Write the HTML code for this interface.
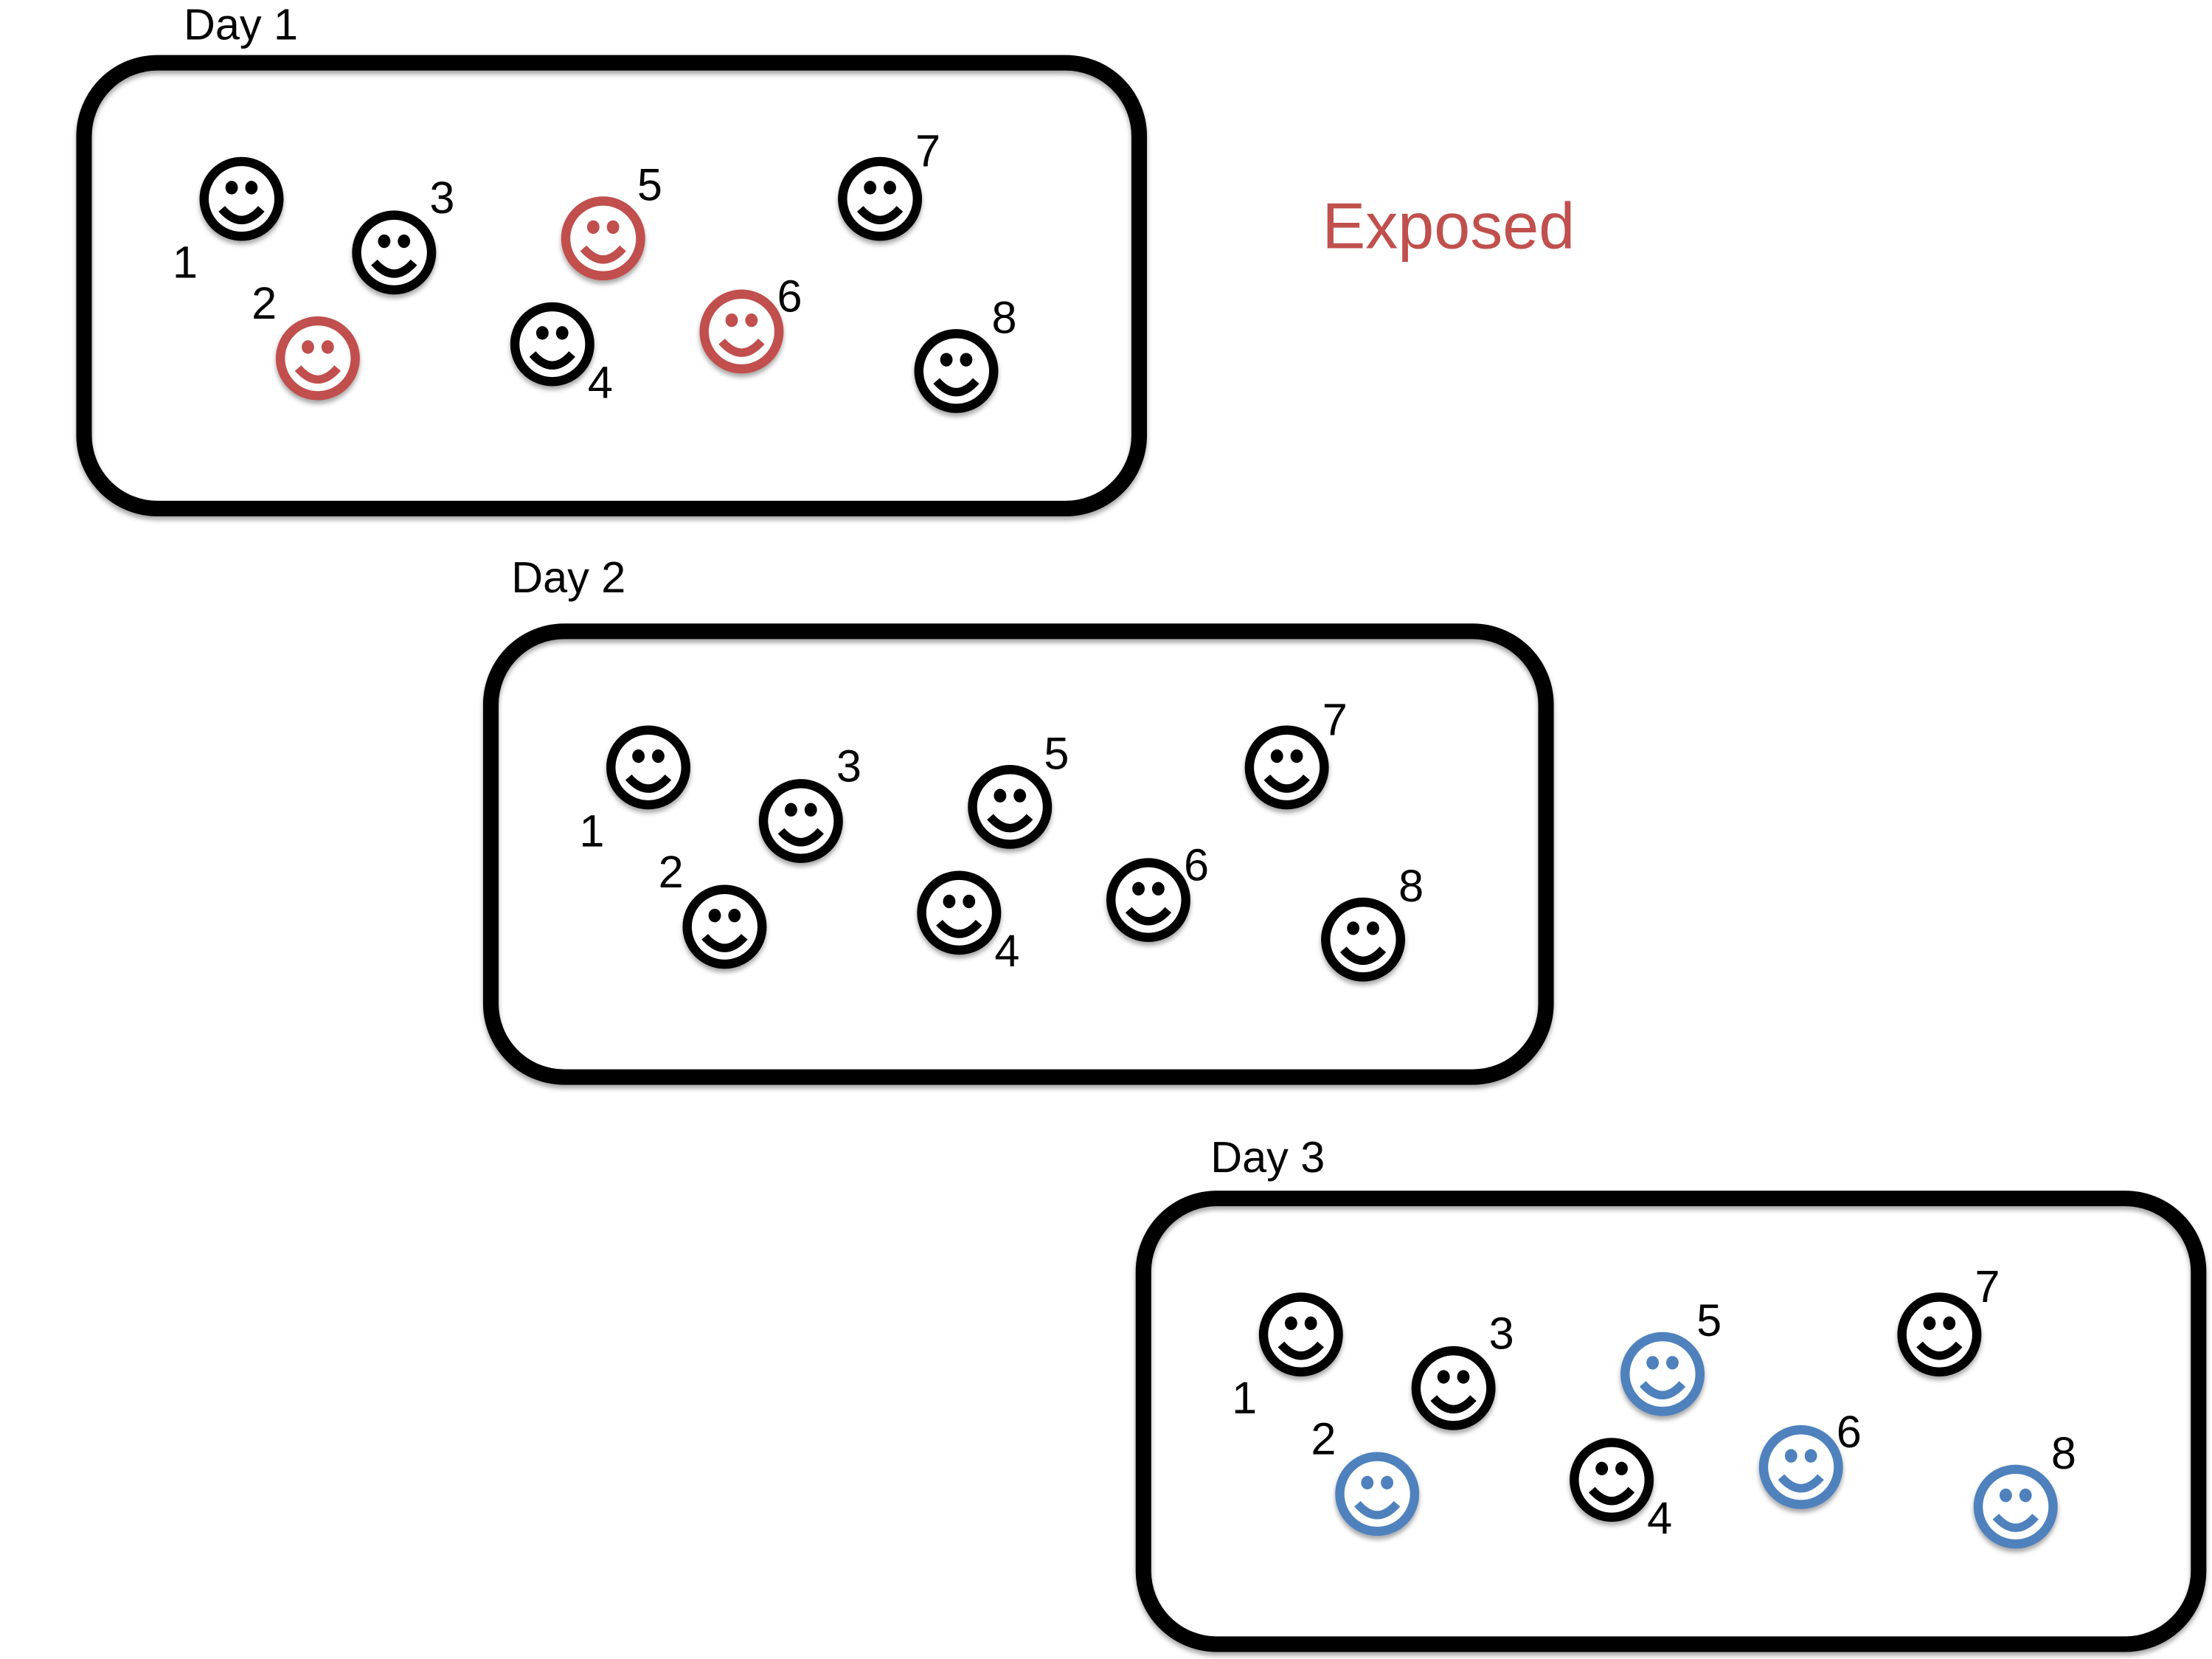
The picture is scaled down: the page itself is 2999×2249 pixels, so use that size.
<!DOCTYPE html>
<html><head><meta charset="utf-8"><style>
html,body{margin:0;padding:0;background:#fff;}
svg{display:block;}
text{font-family:"Liberation Sans",sans-serif;}
</style></head><body>
<svg width="2999" height="2249" viewBox="0 0 1566 1176" preserveAspectRatio="none" xmlns="http://www.w3.org/2000/svg">
<defs>
<filter id="sh" x="-20%" y="-20%" width="140%" height="150%">
<feDropShadow dx="0" dy="2.5" stdDeviation="1.6" flood-color="#000" flood-opacity="0.35"/>
</filter>
<g id="sm">
<circle r="26.5" fill="#fff" stroke="currentColor" stroke-width="6.5"/>
<ellipse cx="-7" cy="-8" rx="4.4" ry="4.8" fill="currentColor"/>
<ellipse cx="7" cy="-8" rx="4.4" ry="4.8" fill="currentColor"/>
<path d="M-14,7 Q0,23 14,7" fill="none" stroke="currentColor" stroke-width="6"/>
</g>
</defs>

<g>
<text x="130" y="28" font-size="31">Day 1</text>
<rect x="59.5" y="44.5" width="747" height="316" rx="52" fill="none" stroke="#000" stroke-width="11" filter="url(#sh)"/>
<g filter="url(#sh)">
<use href="#sm" x="171" y="141" color="#000"/>
<use href="#sm" x="225" y="254" color="#C0504D"/>
<use href="#sm" x="279" y="179" color="#000"/>
<use href="#sm" x="391" y="244" color="#000"/>
<use href="#sm" x="427" y="169" color="#C0504D"/>
<use href="#sm" x="525" y="235" color="#C0504D"/>
<use href="#sm" x="623" y="141" color="#000"/>
<use href="#sm" x="677" y="263" color="#000"/>
</g>
<g font-size="32" text-anchor="middle">
<text x="131" y="197">1</text><text x="187" y="226">2</text><text x="313" y="151">3</text><text x="425" y="282">4</text>
<text x="460" y="142">5</text><text x="559" y="221">6</text><text x="657" y="118">7</text><text x="711" y="236">8</text>
</g>
</g>

<text x="936" y="176" font-size="46" fill="#C0504D">Exposed</text>

<g transform="translate(288,403)">
<text x="74" y="17" font-size="31">Day 2</text>
<rect x="59.5" y="44.5" width="747" height="316" rx="52" fill="none" stroke="#000" stroke-width="11" filter="url(#sh)"/>
<g filter="url(#sh)">
<use href="#sm" x="171" y="141" color="#000"/>
<use href="#sm" x="225" y="254" color="#000"/>
<use href="#sm" x="279" y="179" color="#000"/>
<use href="#sm" x="391" y="244" color="#000"/>
<use href="#sm" x="427" y="169" color="#000"/>
<use href="#sm" x="525" y="235" color="#000"/>
<use href="#sm" x="623" y="141" color="#000"/>
<use href="#sm" x="677" y="263" color="#000"/>
</g>
<g font-size="32" text-anchor="middle">
<text x="131" y="197">1</text><text x="187" y="226">2</text><text x="313" y="151">3</text><text x="425" y="282">4</text>
<text x="460" y="142">5</text><text x="559" y="221">6</text><text x="657" y="118">7</text><text x="711" y="236">8</text>
</g>
</g>

<g transform="translate(750,805)">
<text x="107" y="26" font-size="31">Day 3</text>
<rect x="59.5" y="44.5" width="747" height="316" rx="52" fill="none" stroke="#000" stroke-width="11" filter="url(#sh)"/>
<g filter="url(#sh)">
<use href="#sm" x="171" y="141" color="#000"/>
<use href="#sm" x="225" y="254" color="#4F81BD"/>
<use href="#sm" x="279" y="179" color="#000"/>
<use href="#sm" x="391" y="244" color="#000"/>
<use href="#sm" x="427" y="169" color="#4F81BD"/>
<use href="#sm" x="525" y="235" color="#4F81BD"/>
<use href="#sm" x="623" y="141" color="#000"/>
<use href="#sm" x="677" y="263" color="#4F81BD"/>
</g>
<g font-size="32" text-anchor="middle">
<text x="131" y="197">1</text><text x="187" y="226">2</text><text x="313" y="151">3</text><text x="425" y="282">4</text>
<text x="460" y="142">5</text><text x="559" y="221">6</text><text x="657" y="118">7</text><text x="711" y="236">8</text>
</g>
</g>
</svg>
</body></html>
